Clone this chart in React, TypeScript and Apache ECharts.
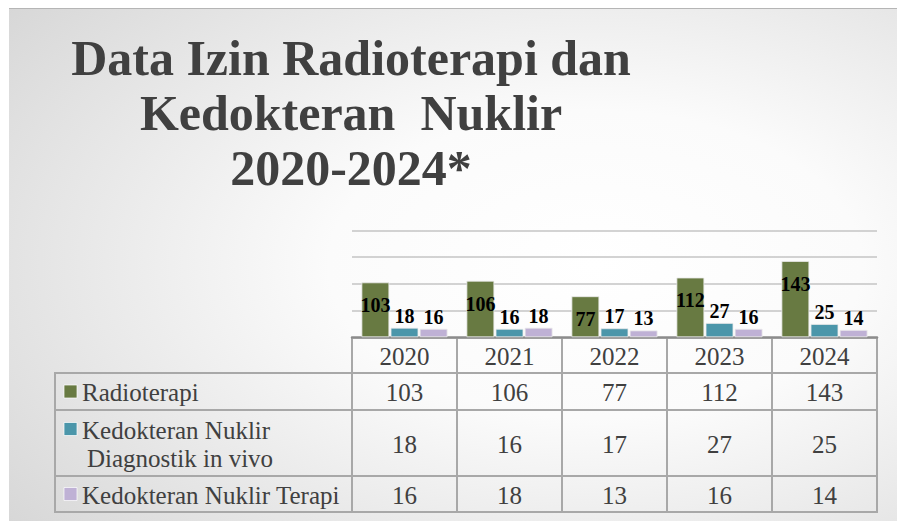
import React, { useEffect, useRef } from 'react';
import * as echarts from 'echarts';

const years = ['2020', '2021', '2022', '2023', '2024'];
const radioterapi = [103, 106, 77, 112, 143];
const knDiagnostik = [18, 16, 17, 27, 25];
const knTerapi = [16, 18, 13, 16, 14];
const seriesNames = ['Radioterapi', 'Kedokteran Nuklir Diagnostik in vivo', 'Kedokteran Nuklir Terapi'];
const rowLabelLines = [['Radioterapi'], ['Kedokteran Nuklir', 'Diagnostik in vivo'], ['Kedokteran Nuklir Terapi']];
const titleLines = ['Data Izin Radioterapi dan', 'Kedokteran  Nuklir', '2020-2024*'];
const yMax = 200;
const yInterval = 50;

const colors = ['#687a42', '#4b96aa', '#bfb1d5'];

const W = 897;
const H = 521;
const gridLeft = 352;
const gridWidth = 525;
const gridTop = 230.5;
const gridHeight = 106.8;
const labelLeft = 55;
const rowBounds = [373, 410, 476, 512];
const serif = '"Liberation Serif", "Times New Roman", serif';

export default function App() {
  const ref = useRef<HTMLDivElement>(null);
  useEffect(() => {
    document.body.style.margin = '0';
    const chart = echarts.init(ref.current!, undefined, { renderer: 'svg' });
    const axisY = gridTop + gridHeight;
    const colW = gridWidth / years.length;
    const right = gridLeft + gridWidth;
    const lineColor = '#a8a8a8';
    const textColor = '#404040';
    const g: any[] = [];

    g.push({
      type: 'rect',
      z: -100,
      shape: { x: 9, y: 8, width: W - 9, height: H - 8 },
      style: {
        fill: new echarts.graphic.RadialGradient(0.66, 0.5, 1.2, [
          { offset: 0, color: '#ffffff' },
          { offset: 0.25, color: '#fbfbfb' },
          { offset: 1, color: '#bebebe' },
        ]),
      },
    });
    g.push({ type: 'line', z: -90, shape: { x1: 9, y1: 8.5, x2: W, y2: 8.5 }, style: { stroke: '#b5b5b5', lineWidth: 1 } });

    // header verticals
    for (let i = 0; i <= years.length; i++) {
      const x = gridLeft + i * colW;
      g.push({ type: 'line', shape: { x1: x, y1: axisY, x2: x, y2: rowBounds[rowBounds.length - 1] }, style: { stroke: lineColor, lineWidth: 2 } });
    }
    g.push({ type: 'line', shape: { x1: labelLeft, y1: rowBounds[0], x2: labelLeft, y2: rowBounds[rowBounds.length - 1] }, style: { stroke: lineColor, lineWidth: 2 } });
    rowBounds.forEach((y) => {
      g.push({ type: 'line', shape: { x1: labelLeft - 1, y1: y, x2: right + 1, y2: y }, style: { stroke: lineColor, lineWidth: 2 } });
    });

    const textStyle = (text: string, x: number, y: number, align: string) => ({
      type: 'text',
      z: 10,
      x,
      y,
      style: {
        text,
        fill: textColor,
        font: '25px ' + serif,
        align,
        verticalAlign: 'middle',
        textAlign: align,
        textVerticalAlign: 'middle',
      },
    });

    years.forEach((yr, i) => {
      g.push(textStyle(yr, gridLeft + (i + 0.5) * colW, (axisY + rowBounds[0]) / 2 + 1, 'center'));
    });
    const seriesData = [radioterapi, knDiagnostik, knTerapi];
    seriesData.forEach((arr, r) => {
      const y0 = rowBounds[r];
      const y1 = rowBounds[r + 1];
      const cy = (y0 + y1) / 2;
      arr.forEach((v, i) => {
        g.push(textStyle(String(v), gridLeft + (i + 0.5) * colW, cy + 1, 'center'));
      });
      const lines = rowLabelLines[r];
      const lh = 28;
      const firstY = cy - ((lines.length - 1) * lh) / 2;
      lines.forEach((ln, k) => {
        g.push(textStyle(ln, k === 0 ? 82 : 87, firstY + k * lh + 1, 'left'));
      });
      g.push({
        type: 'rect',
        z: 10,
        shape: { x: 64, y: firstY - 6.5, width: 13, height: 13 },
        style: { fill: colors[r], stroke: 'rgba(255,255,255,0.7)', lineWidth: 1 },
      });
    });

    const mkSeries = (name: string, data: number[], idx: number) => ({
      name,
      type: 'bar',
      data,
      barWidth: 28,
      barGap: '4%',
      itemStyle: { color: colors[idx], borderColor: 'rgba(235,235,235,0.8)', borderWidth: 1 },
      label: {
        show: true,
        position: idx === 0 ? 'insideTop' : 'top',
        distance: idx === 0 ? 13 : 2,
        color: '#000',
        fontWeight: 'bold',
        fontSize: 20,
        fontFamily: serif,
      },
    });

    chart.setOption({
      animation: false,
      title: {
        text: titleLines.join('\n'),
        left: 346,
        top: 25,
        textAlign: 'center',
        textStyle: { fontFamily: serif, fontWeight: 'bold', fontSize: 50, color: textColor, lineHeight: 55 },
      },
      grid: { left: gridLeft, top: gridTop, width: gridWidth, height: gridHeight, containLabel: false },
      xAxis: {
        type: 'category',
        data: years,
        axisLine: { show: true, lineStyle: { color: '#8c8c8c', width: 2.5 } },
        axisTick: { show: false },
        axisLabel: { show: false },
      },
      yAxis: {
        type: 'value',
        min: 0,
        max: yMax,
        interval: yInterval,
        axisLabel: { show: false },
        axisLine: { show: false },
        axisTick: { show: false },
        splitLine: { lineStyle: { color: '#c4c4c4', width: 1.5 } },
      },
      series: [
        mkSeries(seriesNames[0], radioterapi, 0),
        mkSeries(seriesNames[1], knDiagnostik, 1),
        mkSeries(seriesNames[2], knTerapi, 2),
      ],
      graphic: g,
    });
    return () => chart.dispose();
  }, []);
  return <div ref={ref} style={{ width: W, height: H }} />;
}
